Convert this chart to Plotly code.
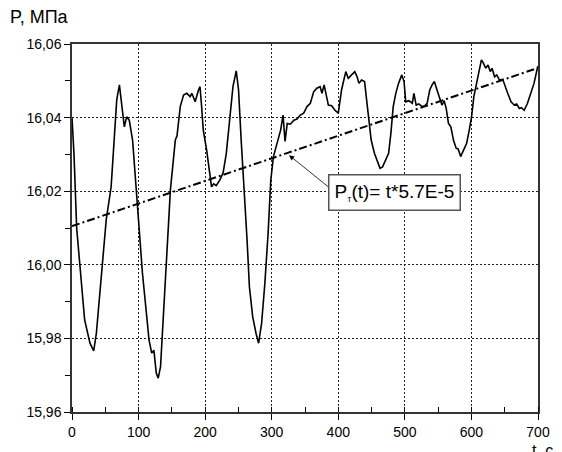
import plotly.graph_objects as go

# time, s
t = [0, 3, 7, 12, 19, 27, 32.6, 36.6, 44, 51.4, 58.8, 63.8, 67.2, 71.2, 73.7, 78.6, 82.1, 86, 91,
     95.9, 100.9, 105.8, 110.8, 115.7, 119.7, 123, 126.6, 129.5, 133, 138, 142.9, 147.8, 155.2,
     157.7, 162.6, 167.6, 172.5, 177.5, 180, 185, 190, 192.3, 194.7, 197.2, 202.2, 205.6, 209.6,
     213, 216.6, 222, 227, 231.8, 236.8, 241.8, 246.7, 250.2, 254.1, 259, 263, 266.5, 271.4, 276.4,
     280.3, 284.8, 289.7, 294.6, 298.6, 302.6, 307.5, 313.4, 317, 320, 323.3, 328, 333.3, 338, 343,
     348, 353, 358, 363, 367.8, 372.7, 375.5, 378.7, 382.6, 385.1, 390, 395, 400, 404.9, 408.3,
     411.3, 415, 419.7, 424.7, 428, 431.1, 434.9, 439.5, 442, 446, 449.4, 454.3, 457.8, 462.7,
     466.5, 471.6, 475.6, 479, 482.5, 486.4, 490.5, 495.4, 498.8, 501.3, 506, 511.2, 513.6, 517,
     521, 526, 530, 533.5, 537.4, 540.9, 544.3, 548.3, 552.2, 555.7, 559, 562.1, 565.5, 569.1, 573,
     577, 580, 583.9, 586, 592.8, 596.7, 600.2, 603.6, 607.6, 611.5, 615, 618, 621.4, 625, 628.3,
     631, 634.8, 638, 642.2, 647, 651, 654.5, 659.5, 664.4, 668, 671.9, 675, 679.3, 684.2, 689.2,
     694, 699, 700]

# pressure, MPa
p = [16.040, 16.030, 16.010, 15.9995, 15.985, 15.9787, 15.9766, 15.9814, 15.9978, 16.0122, 16.0212,
     16.0339, 16.0448, 16.0489, 16.0448, 16.0375, 16.0402, 16.0393, 16.0339, 16.0222, 16.0104,
     15.9978, 15.9886, 15.9796, 15.976, 15.9768, 15.9706, 15.9692, 15.9723, 15.9886, 16.0049,
     16.0203, 16.0339, 16.035, 16.043, 16.0461, 16.0466, 16.0457, 16.0466, 16.0443, 16.0475,
     16.0484, 16.043, 16.0366, 16.0312, 16.0258, 16.0212, 16.022, 16.0215, 16.023, 16.025, 16.0303,
     16.0393, 16.0484, 16.0527, 16.0475, 16.0339, 16.0203, 16.0067, 15.994, 15.9859, 15.9814,
     15.9787, 15.9841, 15.995, 16.0086, 16.023, 16.0294, 16.033, 16.0366, 16.0407, 16.0335, 16.0384,
     16.0382, 16.0393, 16.0396, 16.0407, 16.0412, 16.043, 16.0439, 16.047, 16.048, 16.0484, 16.0466,
     16.0489, 16.0452, 16.0434, 16.0432, 16.042, 16.0412, 16.0475, 16.0502, 16.0525, 16.0507,
     16.0516, 16.0525, 16.0512, 16.0493, 16.0502, 16.0498, 16.0457, 16.0393, 16.0339, 16.0303,
     16.0285, 16.0262, 16.0266, 16.0285, 16.0303, 16.0357, 16.043, 16.0466, 16.0493, 16.0516,
     16.0498, 16.0443, 16.0446, 16.0439, 16.0466, 16.0434, 16.0437, 16.043, 16.0432, 16.0439,
     16.0475, 16.0489, 16.0498, 16.0475, 16.0452, 16.0434, 16.0446, 16.0425, 16.0384, 16.0375,
     16.0339, 16.0317, 16.0315, 16.0294, 16.0303, 16.033, 16.0366, 16.0402, 16.0457, 16.0493,
     16.052, 16.0557, 16.0548, 16.0534, 16.0543, 16.0525, 16.0534, 16.0511, 16.0516, 16.0502,
     16.0504, 16.048, 16.0466, 16.0443, 16.0434, 16.0437, 16.0425, 16.0427, 16.042, 16.0439,
     16.0466, 16.0493, 16.0534, 16.054]

# linear trend
trend_t = [0, 700]
trend_p = [16.0105, 16.0535]

x_ticks = [0, 100, 200, 300, 400, 500, 600, 700]
y_ticks = [15.96, 15.98, 16.00, 16.02, 16.04, 16.06]

FONT = "Liberation Sans, Arial, sans-serif"

fig = go.Figure()
fig.add_trace(go.Scatter(x=t, y=p, mode="lines",
                         line=dict(color="black", width=1.6), showlegend=False))
fig.add_trace(go.Scatter(x=trend_t, y=trend_p, mode="lines",
                         line=dict(color="black", width=2, dash="8px,3px,2px,3px"),
                         showlegend=False))

axis_common = dict(
    showline=True, linecolor="#333", linewidth=1.5, mirror=True,
    showgrid=True, gridcolor="#222", gridwidth=1, griddash="2px,2px",
    ticks="outside", ticklen=6, tickcolor="black", tickwidth=1,
    zeroline=False, tickfont=dict(family=FONT, size=14, color="black"),
)

fig.update_xaxes(range=[0, 700], tickvals=x_ticks,
                 minor=dict(ticks="inside", ticklen=5, dtick=50, tickcolor="black", showgrid=False),
                 **axis_common)
fig.update_yaxes(range=[15.96, 16.06], tickvals=y_ticks, tickformat=".2f",
                 minor=dict(ticks="outside", ticklen=5, dtick=0.01, tickcolor="black", showgrid=False),
                 **axis_common)

fig.add_annotation(x=326, y=16.0298, ax=387, ay=16.0209, axref="x", ayref="y",
                   text="", showarrow=True, arrowhead=2, arrowsize=1.3, arrowwidth=0.8,
                   arrowcolor="black")
fig.add_annotation(x=485, y=16.0196, xref="x", yref="y", showarrow=False,
                   text="P<sub><span style='font-size:9px'>т</span></sub>(t)= t*5.7E-5",
                   font=dict(family=FONT, size=19, color="black"),
                   bgcolor="white", bordercolor="#555", borderwidth=1.5, borderpad=3,
                   width=124, height=28)

fig.add_annotation(x=-0.1377, y=1.0734, xref="paper", yref="paper", xanchor="left",
                   yanchor="middle", showarrow=False, text="P, МПа",
                   font=dict(family=FONT, size=18, color="black"))
fig.add_annotation(x=0.983, y=-0.077, xref="paper", yref="paper", xanchor="left",
                   yanchor="top", showarrow=False, text="t, c",
                   font=dict(family=FONT, size=16, color="black"))

fig.update_layout(width=562, height=452, margin=dict(l=72, r=18, t=44, b=40),
                  plot_bgcolor="white", paper_bgcolor="white", separators=", ",
                  font=dict(family=FONT, size=14, color="black"))

fig.write_html("out.html")
